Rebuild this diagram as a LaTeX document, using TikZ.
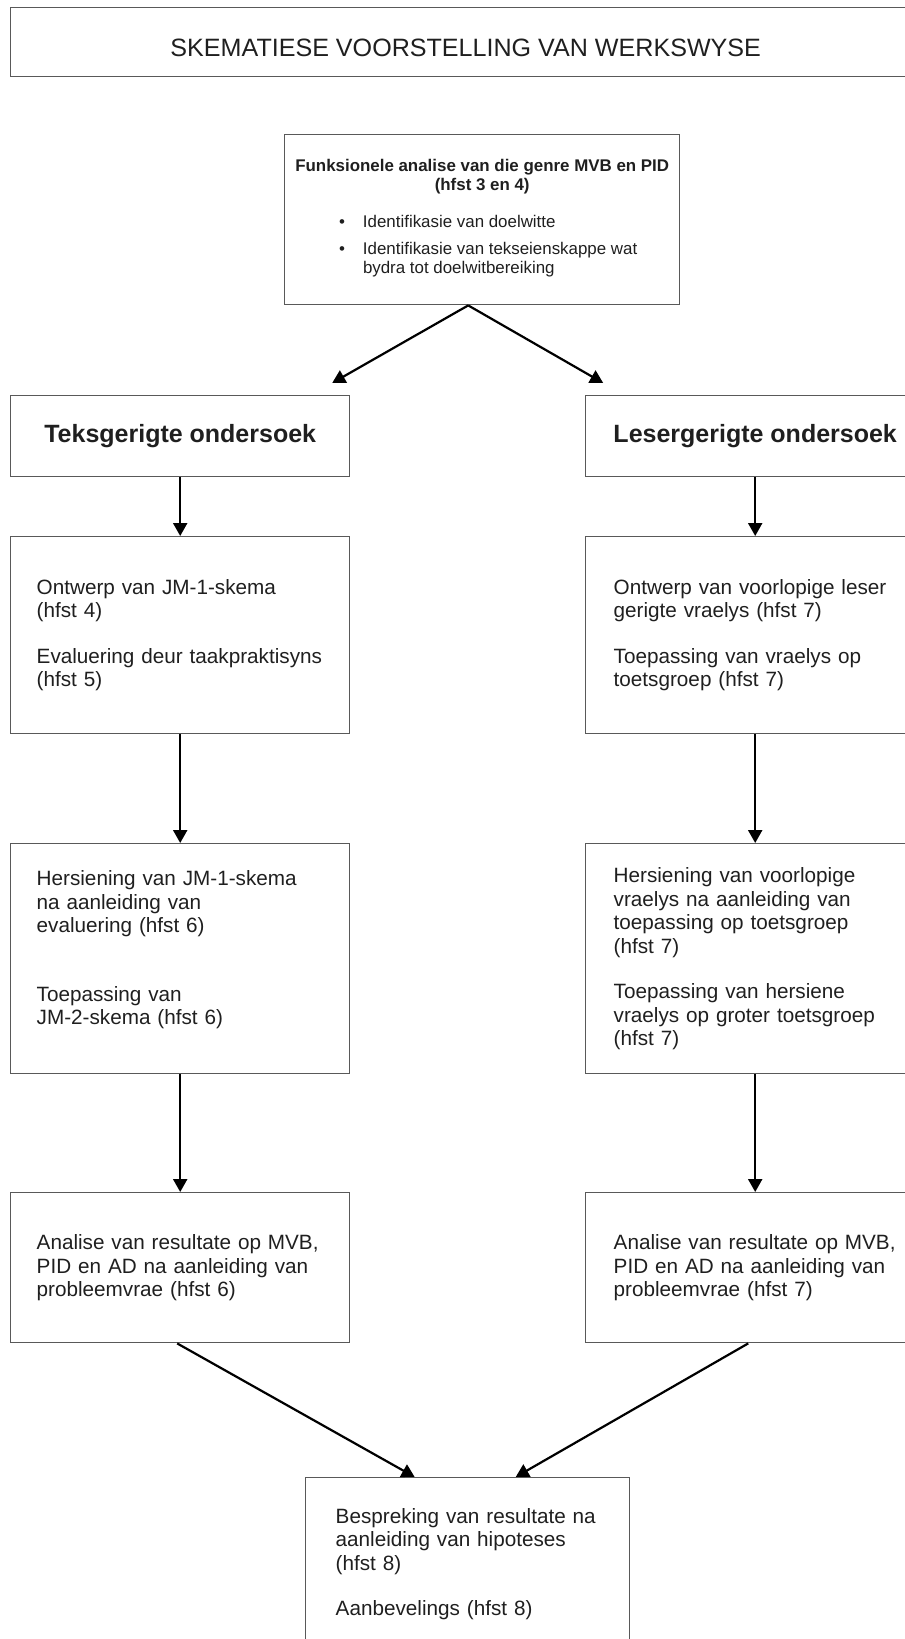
\documentclass[tikz,border=0pt]{standalone}
\usepackage{fontspec}
\setmainfont{Liberation Sans}
\usepackage{tikz}
\usepackage{xcolor}
\usetikzlibrary{arrows.meta}

\definecolor{rand}{gray}{0.35}
\definecolor{skrif}{gray}{0.12}

\begin{document}
\begin{tikzpicture}[x=1pt,y=-1pt,
    >={Triangle[length=13pt,width=14pt]},
    pyl/.style={->,line width=2.2pt,black},
    kas/.style={draw=rand,line width=1.4pt,text=skrif,inner sep=0pt,anchor=north west},
    kop/.style={kas,minimum width=339pt,minimum height=81pt,
      font=\bfseries\fontsize{25}{30}\selectfont},
    blok/.style={kas,align=left,text width=287pt,inner xsep=26pt,
      font=\fontsize{20.7}{23.5}\selectfont},
    regs/.style={blok,text width=283pt,inner xsep=28pt}]
  \useasboundingbox (0,0) rectangle (905,1639);
  \clip (0,0) rectangle (905,1639);

  \node (titel) [kas,minimum width=910pt,minimum height=69pt,text height=28pt,text depth=0pt,
    font=\fontsize{25.1}{29}\selectfont] at (10,7)
    {SKEMATIESE VOORSTELLING VAN WERKSWYSE};

  \node (funk) [kas,minimum width=395pt,minimum height=170pt,align=center,
    font=\fontsize{16.9}{19}\selectfont] at (284,134)
    {\textbf{Funksionele analise van die genre MVB en PID}\\\textbf{(hfst 3 en 4)}\\[18pt]
     \hspace*{12pt}\begin{tabular}[t]{@{}c@{\hspace{18pt}}l@{}}
       \textbullet & Identifikasie van doelwitte\\[8pt]
       \textbullet & Identifikasie van tekseienskappe wat\\
                   & bydra tot doelwitbereiking
     \end{tabular}};

  \node (teks) [kop] at (10,395) {Teksgerigte ondersoek};
  \node (leser) [kop] at (585,395) {Lesergerigte ondersoek};

  \node (ontwerp) [blok,minimum height=197pt] at (10,536)
    {Ontwerp van JM-1-skema\\(hfst 4)\\[22pt]Evaluering deur taakpraktisyns\\(hfst 5)};
  \node (vraelys) [regs,minimum height=197pt] at (585,536)
    {Ontwerp van voorlopige leser\\gerigte vraelys (hfst 7)\\[22pt]Toepassing van vraelys op\\toetsgroep (hfst 7)};

  \node (hersien) [blok,minimum height=230pt] at (10,843)
    {Hersiening van JM-1-skema\\na aanleiding van\\evaluering (hfst 6)\\[45pt]Toepassing van\\JM-2-skema (hfst 6)\\[-2pt]\mbox{}};
  \node (hersienv) [regs,minimum height=230pt] at (585,843)
    {Hersiening van voorlopige\\vraelys na aanleiding van\\toepassing op toetsgroep\\(hfst 7)\\[22pt]Toepassing van hersiene\\vraelys op groter toetsgroep\\(hfst 7)};

  \node (analiset) [blok,minimum height=150pt] at (10,1192)
    {Analise van resultate op MVB,\\PID en AD na aanleiding van\\probleemvrae (hfst 6)};
  \node (analisel) [regs,minimum height=150pt] at (585,1192)
    {Analise van resultate op MVB,\\PID en AD na aanleiding van\\probleemvrae (hfst 7)};

  \node (bespreek) [blok,text width=264pt,inner xsep=30pt,minimum height=173pt] at (305,1477)
    {Bespreking van resultate na\\aanleiding van hipoteses\\(hfst 8)\\[22pt]Aanbevelings (hfst 8)};

  \draw[pyl] ([xshift=-14pt]funk.south) -- ([xshift=152pt,yshift=12pt]teks.north);
  \draw[pyl] ([xshift=-14pt]funk.south) -- ([xshift=-152pt,yshift=12pt]leser.north);
  \draw[pyl] (teks) -- (ontwerp);
  \draw[pyl] (leser) -- (vraelys);
  \draw[pyl] (ontwerp) -- (hersien);
  \draw[pyl] (vraelys) -- (hersienv);
  \draw[pyl] (hersien) -- (analiset);
  \draw[pyl] (hersienv) -- (analisel);
  \draw[pyl] ([xshift=-3pt]analiset.south) -- ([xshift=-53pt]bespreek.north);
  \draw[pyl] ([xshift=-7pt]analisel.south) -- ([xshift=48pt]bespreek.north);
\end{tikzpicture}
\end{document}
